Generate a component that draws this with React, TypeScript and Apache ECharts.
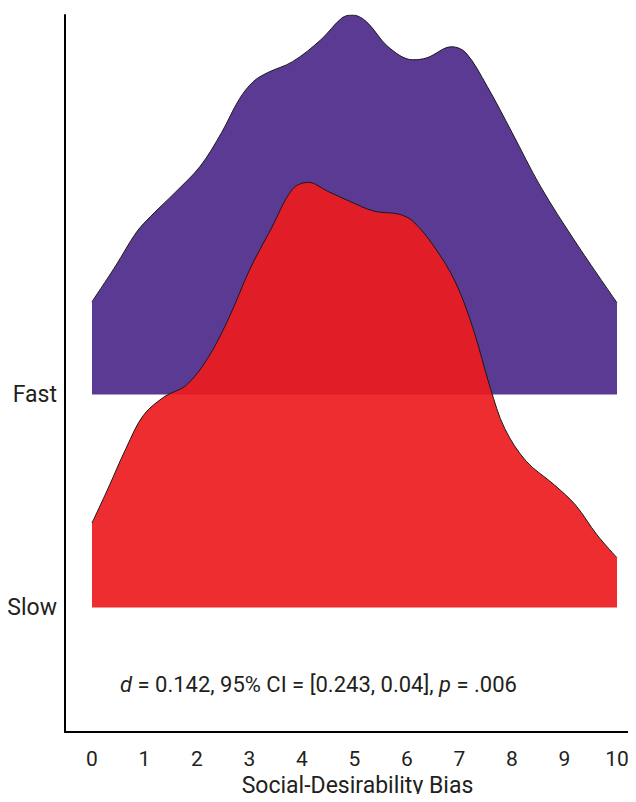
import React, { useEffect, useRef } from "react";
import * as echarts from "echarts";

const groups = ["Slow", "Fast"];
const xTicks = [0, 1, 2, 3, 4, 5, 6, 7, 8, 9, 10];

const fastX = [0, 0.45, 0.85, 1.12, 1.59, 2.06, 2.47, 2.8, 3.07, 3.34, 3.82, 4.36, 4.76, 4.96, 5.23, 5.64, 6.11, 6.38, 6.85, 7.12, 7.53, 8.0, 8.54, 9.21, 10];
const fastH = [0.435, 0.603, 0.762, 0.836, 0.949, 1.07, 1.229, 1.383, 1.467, 1.509, 1.561, 1.664, 1.766, 1.78, 1.748, 1.631, 1.57, 1.579, 1.631, 1.603, 1.444, 1.229, 0.977, 0.715, 0.43];

const slowX = [0, 0.31, 0.65, 0.98, 1.39, 1.79, 2.2, 2.6, 3.01, 3.41, 3.82, 4.12, 4.49, 4.9, 5.37, 5.84, 6.11, 6.51, 6.92, 7.26, 7.59, 7.86, 8.27, 8.81, 9.21, 9.62, 10];
const slowH = [0.397, 0.561, 0.748, 0.902, 0.991, 1.042, 1.168, 1.355, 1.589, 1.776, 1.963, 1.995, 1.953, 1.907, 1.86, 1.846, 1.813, 1.696, 1.528, 1.308, 1.028, 0.841, 0.687, 0.575, 0.481, 0.341, 0.234];

const ridgeOffset = [0, 1]; // Slow, Fast baselines on the y axis

const annotation = "{i|d} = 0.142, 95% CI = [0.243, 0.04], {i|p} = .006";

const FONT = "Roboto, 'Liberation Sans Narrow', sans-serif";
const TXT = "#231F20";

export default function App() {
  const ref = useRef<HTMLDivElement>(null);
  useEffect(() => {
    if (!ref.current) return;
    const chart = echarts.init(ref.current, null, { renderer: "svg" });
    chart.setOption({
      animation: false,
      grid: { left: 65, right: 0, top: 15, bottom: 67 },
      xAxis: {
        type: "value",
        min: -0.514,
        max: 10.362,
        name: "Social-Desirability Bias",
        nameLocation: "middle",
        nameGap: 40,
        nameTextStyle: { fontFamily: FONT, fontSize: 23, color: TXT, padding: [0, 0, 0, 14] },
        axisLine: { show: true, onZero: false, lineStyle: { color: "#000", width: 2 } },
        axisTick: { show: false },
        splitLine: { show: false },
        axisLabel: {
          customValues: xTicks,
          fontFamily: FONT,
          fontSize: 21,
          color: TXT,
          margin: 16,
        },
      },
      yAxis: {
        type: "value",
        min: -0.584,
        max: 2.78,
        axisLine: { show: true, onZero: false, lineStyle: { color: "#000", width: 2 } },
        axisTick: { show: false },
        splitLine: { show: false },
        axisLabel: {
          customValues: ridgeOffset,
          formatter: (v: number) => (v === ridgeOffset[0] ? groups[0] : groups[1]),
          fontFamily: FONT,
          fontSize: 23,
          color: TXT,
          margin: 8,
        },
      },
      series: [
        {
          type: "line",
          name: "Fast",
          data: fastX.map((x, i) => [x, ridgeOffset[1] + fastH[i]]),
          smooth: 0.35,
          symbol: "none",
          lineStyle: { color: "#1a1a1a", width: 1 },
          areaStyle: { color: "#5A3A93", opacity: 1, origin: ridgeOffset[1] },
          silent: true,
          z: 2,
        },
        {
          type: "line",
          name: "Slow",
          data: slowX.map((x, i) => [x, ridgeOffset[0] + slowH[i]]),
          smooth: 0.35,
          symbol: "none",
          lineStyle: { color: "#1a1a1a", width: 1 },
          areaStyle: { color: "rgba(237,27,30,0.92)", opacity: 1, origin: ridgeOffset[0] },
          silent: true,
          z: 3,
        },
      ],
      graphic: [
        {
          type: "text",
          left: 120,
          top: 673,
          style: {
            text: annotation,
            fontFamily: FONT,
            fontSize: 22,
            fill: TXT,
            rich: {
              i: { fontFamily: FONT, fontSize: 22, fontStyle: "italic", fill: TXT },
            },
          },
        },
      ],
    });
    return () => chart.dispose();
  }, []);
  return <div ref={ref} style={{ width: 636, height: 802, margin: -8 }} />;
}
